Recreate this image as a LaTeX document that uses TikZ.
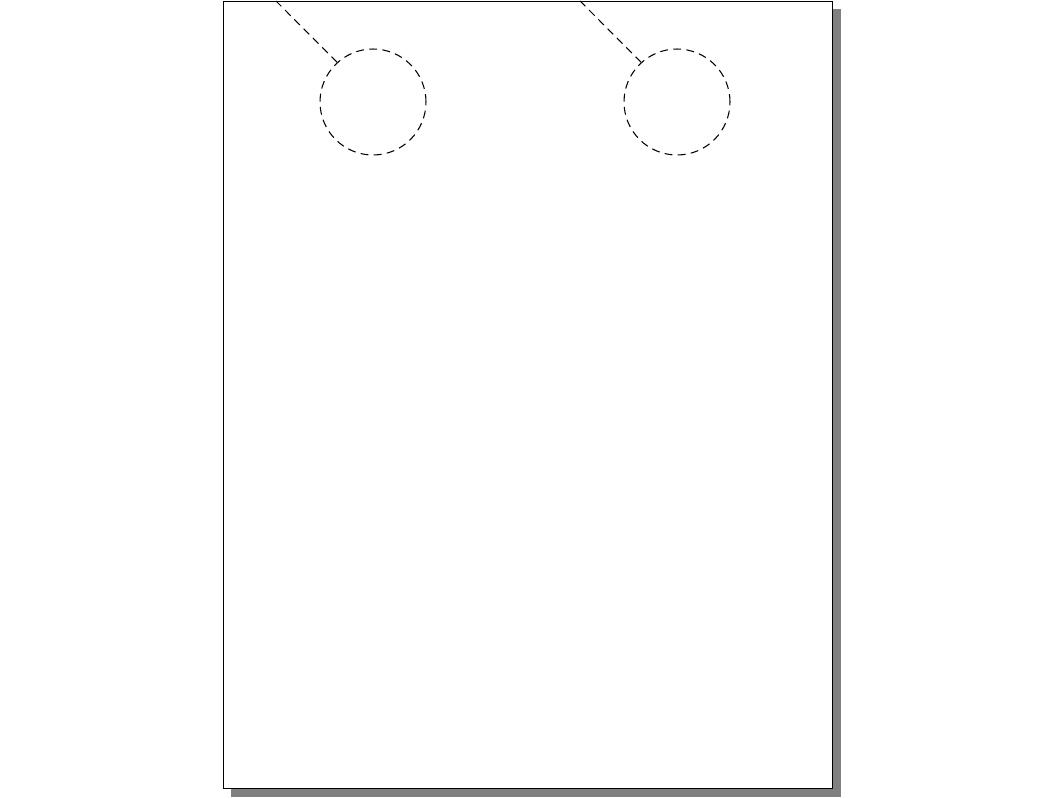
\documentclass[tikz,border=0pt]{standalone}
\usepackage{tikz}
\usetikzlibrary{shadows}

\begin{document}
\begin{tikzpicture}[x=0.02cm, y=-0.02cm, line width=0.6pt,
    page/.style={draw=black, fill=white, inner sep=0pt, outer sep=0pt, minimum width=12.2cm, minimum height=15.76cm,
        general shadow={fill=black!50, shadow xshift=0.16cm, shadow yshift=-0.16cm}},
    hole/.style={circle, draw, dash pattern=on 4.5pt off 3pt, inner sep=0pt, minimum size=2.12cm},
    slit/.style={dash pattern=on 4.5pt off 3pt}]
\useasboundingbox (0,0) rectangle (1064,798);

\node[page] (page) at (528,395) {};

\node[hole] (hole left) at (373,102) {};
\node[hole] (hole right) at (677,102) {};
%cuts up to the top edge
\coordinate (cut left) at (276,1);
\coordinate (cut right) at (580,1);

\draw[slit] (hole left.132) -- (cut left);
\draw[slit] (hole right.132) -- (cut right);

\end{tikzpicture}
\end{document}
